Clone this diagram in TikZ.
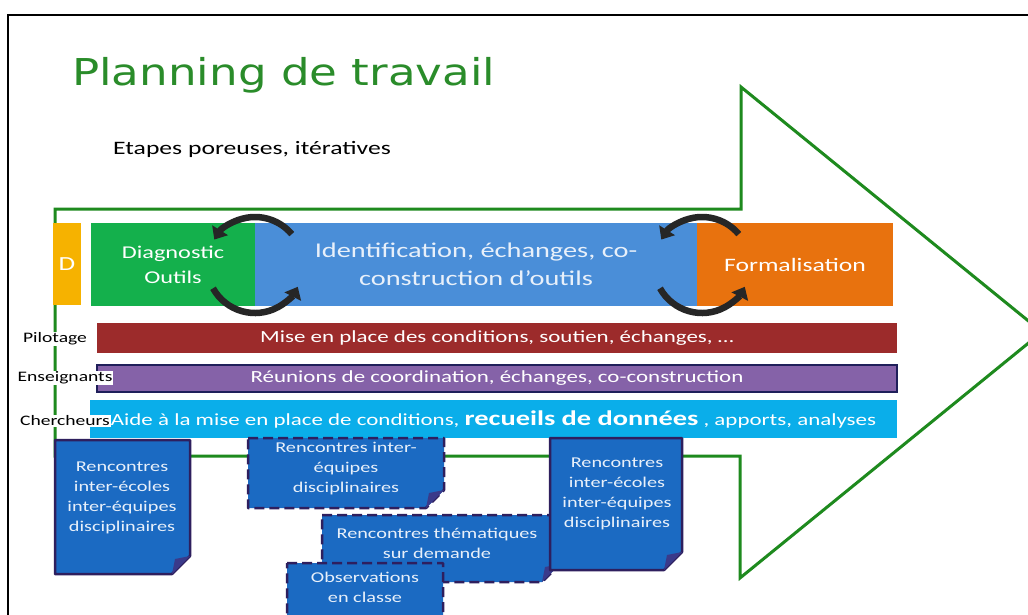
\documentclass[tikz,border=0pt]{standalone}
\usepackage{fontspec}
\setmainfont{Carlito}[FakeStretch=1.35]
\newfontfamily\titlefont{DejaVu Sans}[FakeStretch=1.22]
\usetikzlibrary{arrows.meta}
\definecolor{arrowgreen}{HTML}{1E8A1E}
\definecolor{titlegreen}{HTML}{2A8C2A}
\definecolor{dgold}{HTML}{F6B200}
\definecolor{diaggreen}{HTML}{14B04C}
\definecolor{identblue}{HTML}{4A8ED8}
\definecolor{formorange}{HTML}{E8720E}
\definecolor{pilred}{HTML}{9C2B2B}
\definecolor{enspurple}{HTML}{8562A8}
\definecolor{ensborder}{HTML}{1F1F5A}
\definecolor{chercyan}{HTML}{0AAEEA}
\definecolor{boxblue}{HTML}{1B6AC2}
\definecolor{boxborder}{HTML}{2E1F5E}
\definecolor{foldc}{HTML}{3A3A8A}
\definecolor{lighttext}{HTML}{E8F0FA}
\definecolor{cyclec}{HTML}{262626}
\newcommand{\foldedbox}[5]{%
  \draw[#1] (#2,#3) -- (#4,#3) -- (#4,#5-18) -- (#4-18,#5) -- (#2,#5) -- cycle;
  \fill[foldc] (#4,#5-18) -- (#4-18,#5) -- (#4-15,#5-15) -- cycle;
}
\tikzset{
  stepbox/.style={draw=none, inner sep=0pt, text=white, align=center},
  barbox/.style={inner sep=0pt, text=white, align=center, minimum width=800pt},
  rolelabel/.style={fill=white, inner sep=1pt, text=black, font=\fontsize{14.5}{16}\selectfont},
  solidbox/.style={fill=boxblue, draw=boxborder, line width=2.5pt, line join=round},
  dashbox/.style={solidbox, dash pattern=on 10pt off 5pt},
  boxtext/.style={text=lighttext, align=center, font=\fontsize{15}{20}\selectfont},
  cyclearrow/.style={cyclec, line width=6.5pt, -{Triangle[width=18pt,length=11pt]}}
}
\begin{document}
\begin{tikzpicture}[x=1pt,y=-1pt]
\useasboundingbox (0,0) rectangle (1028,614);
\clip (0,0) rectangle (1028,614);
\fill[white] (0,0) rectangle (1028,614);
\draw[line width=1.5pt] (8,15) rectangle (1100,700);

\node[anchor=base west, inner sep=0pt, text=titlegreen, font=\titlefont\fontsize{37}{40}\selectfont] (title) at (72,85) {Planning de travail};
\node[anchor=base west, inner sep=0pt, font=\fontsize{19}{22}\selectfont] (sub) at (113,154) {Etapes poreuses, itératives};

% green arrow
\draw[arrowgreen, line width=3pt, line join=miter] (55,209) -- (741,209) -- (741,87) -- (1042,332) -- (740,578) -- (740,456) -- (55,456) -- cycle;

% step boxes
\node[stepbox, fill=dgold, minimum width=28pt, minimum height=82pt, font=\fontsize{20}{22}\selectfont] (d) at (67,264) {D};
\node[stepbox, fill=diaggreen, minimum width=164pt, minimum height=83pt, font=\fontsize{18}{25}\selectfont] (diag) at (173,264.5) {Diagnostic\\Outils};
\node[stepbox, fill=identblue, minimum width=442pt, minimum height=83pt, text=lighttext, font=\fontsize{21}{28}\selectfont] (ident) at (476,264.5) {Identification, échanges, co-\\construction d’outils};
\node[stepbox, fill=formorange, minimum width=196pt, minimum height=83pt, font=\fontsize{19}{22}\selectfont] (form) at (795,264.5) {Formalisation};

% cycle arrows
\coordinate (c1) at (255,265);
\coordinate (c2) at (702,265);
\draw[cyclearrow] (c1) ++(-40:48) arc[start angle=-40, end angle=-148, radius=48];
\draw[cyclearrow] (c1) ++(151:48) arc[start angle=151, end angle=27, radius=48];
\draw[cyclearrow] (c2) ++(-40:48) arc[start angle=-40, end angle=-148, radius=48];
\draw[cyclearrow] (c2) ++(151:48) arc[start angle=151, end angle=27, radius=48];

% bars
\node[barbox, fill=pilred, minimum height=30pt, font=\fontsize{17}{20}\selectfont] (pil) at (497,338) {Mise en place des conditions, soutien, échanges, …};
\node[barbox, fill=enspurple, draw=ensborder, line width=2pt, minimum height=27pt, font=\fontsize{17}{20}\selectfont] (ens) at (497,378) {Réunions de coordination, échanges, co-construction};
\node[barbox, fill=chercyan, minimum width=807pt, minimum height=38pt] (cher) at (493.5,419) {\fontsize{17}{20}\selectfont Aide à la mise en place de conditions, {\bfseries\fontsize{21}{22}\selectfont recueils de données} , apports, analyses};

% role labels
\node[rolelabel] (lpil) at (55,339) {Pilotage};
\node[rolelabel] (lens) at (65,378) {Enseignants};
\node[rolelabel] (lcher) at (65,421) {Chercheurs};

% bottom boxes
\foldedbox{solidbox}{55}{440}{190}{574}
\node[boxtext] (b1) at (122,498) {Rencontres\\inter-écoles\\inter-équipes\\disciplinaires};
\foldedbox{dashbox}{248}{438}{444}{508}
\node[boxtext] (b2) at (346,469) {Rencontres inter-\\équipes\\disciplinaires};
\foldedbox{dashbox}{322}{515}{560}{582}
\node[boxtext] (b3) at (437,543) {Rencontres thématiques\\sur demande};
\foldedbox{dashbox}{287}{563}{443}{640}
\node[boxtext] (b4) at (365,587) {Observations\\en classe};
\foldedbox{solidbox}{550}{438}{682}{570}
\node[boxtext] (b5) at (617,494) {Rencontres\\inter-écoles\\inter-équipes\\disciplinaires};
\end{tikzpicture}
\end{document}
